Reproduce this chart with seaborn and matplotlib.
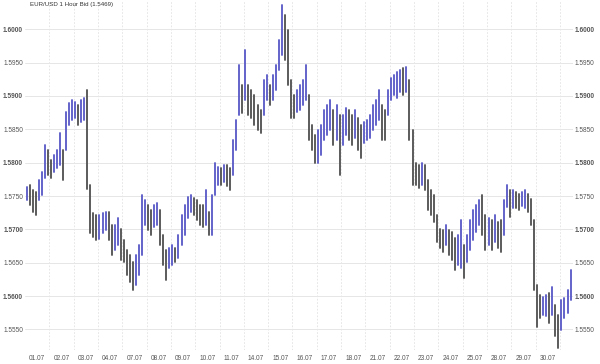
import numpy as np
import pandas as pd
import matplotlib
matplotlib.use("Agg")
import matplotlib.pyplot as plt
import seaborn as sns

title = "EUR/USD 1 Hour Bid (1.5469)"
day_labels = ["01.07", "02.07", "03.07", "04.07", "07.07", "08.07", "09.07", "10.07",
              "11.07", "14.07", "15.07", "16.07", "17.07", "18.07", "21.07", "22.07",
              "23.07", "24.07", "25.07", "28.07", "29.07", "30.07"]
bars_per_day = 8  # one bar = 3 hours

high = [
    1.5764, 1.5767, 1.5759, 1.5756, 1.5774, 1.5786, 1.5827, 1.5819,
    1.5804, 1.5812, 1.5819, 1.5844, 1.5819, 1.5876, 1.5889, 1.5894,
    1.5891, 1.5886, 1.5894, 1.5897, 1.5909, 1.5766, 1.5725, 1.5722,
    1.5722, 1.5725, 1.5726, 1.5726, 1.5707, 1.5707, 1.5717, 1.5701,
    1.5684, 1.5669, 1.5662, 1.5651, 1.5662, 1.5677, 1.5752, 1.5744,
    1.5737, 1.5729, 1.5737, 1.5740, 1.5729, 1.5692, 1.5669, 1.5672,
    1.5677, 1.5672, 1.5692, 1.5722, 1.5737, 1.5749, 1.5752, 1.5747,
    1.5744, 1.5737, 1.5737, 1.5759, 1.5726, 1.5752, 1.5800, 1.5794,
    1.5792, 1.5797, 1.5796, 1.5792, 1.5834, 1.5864, 1.5946, 1.5916,
    1.5969, 1.5916, 1.5909, 1.5901, 1.5886, 1.5879, 1.5924, 1.5931,
    1.5916, 1.5931, 1.5946, 1.5984, 1.6036, 1.6021, 1.5999, 1.5924,
    1.5901, 1.5909, 1.5916, 1.5924, 1.5946, 1.5901, 1.5856, 1.5842,
    1.5849, 1.5856, 1.5879, 1.5886, 1.5894, 1.5879, 1.5886, 1.5871,
    1.5871, 1.5882, 1.5879, 1.5871, 1.5879, 1.5867, 1.5856, 1.5861,
    1.5864, 1.5871, 1.5886, 1.5894, 1.5909, 1.5886, 1.5879, 1.5909,
    1.5927, 1.5931, 1.5936, 1.5939, 1.5942, 1.5944, 1.5924, 1.5849,
    1.5800, 1.5797, 1.5800, 1.5797, 1.5774, 1.5759, 1.5752, 1.5722,
    1.5701, 1.5699, 1.5707, 1.5699, 1.5696, 1.5687, 1.5692, 1.5714,
    1.5677, 1.5692, 1.5714, 1.5729, 1.5737, 1.5744, 1.5752, 1.5722,
    1.5717, 1.5714, 1.5722, 1.5711, 1.5714, 1.5744, 1.5767, 1.5759,
    1.5759, 1.5756, 1.5753, 1.5756, 1.5759, 1.5753, 1.5746, 1.5714,
    1.5617, 1.5602, 1.5599, 1.5602, 1.5605, 1.5614, 1.5587, 1.5572,
    1.5594, 1.5597, 1.5609, 1.5639,
]

low = [
    1.5744, 1.5737, 1.5726, 1.5721, 1.5744, 1.5752, 1.5777, 1.5782,
    1.5777, 1.5786, 1.5792, 1.5797, 1.5774, 1.5819, 1.5856, 1.5864,
    1.5867, 1.5856, 1.5861, 1.5864, 1.5760, 1.5694, 1.5689, 1.5684,
    1.5686, 1.5695, 1.5699, 1.5684, 1.5662, 1.5669, 1.5677, 1.5654,
    1.5651, 1.5632, 1.5621, 1.5609, 1.5617, 1.5632, 1.5662, 1.5707,
    1.5699, 1.5692, 1.5703, 1.5707, 1.5677, 1.5647, 1.5624, 1.5642,
    1.5647, 1.5651, 1.5657, 1.5677, 1.5692, 1.5717, 1.5726, 1.5722,
    1.5714, 1.5707, 1.5703, 1.5707, 1.5692, 1.5692, 1.5752, 1.5767,
    1.5767, 1.5771, 1.5765, 1.5759, 1.5782, 1.5819, 1.5871, 1.5874,
    1.5894, 1.5871, 1.5867, 1.5856, 1.5849, 1.5845, 1.5871, 1.5894,
    1.5886, 1.5894, 1.5909, 1.5939, 1.5961, 1.5954, 1.5916, 1.5867,
    1.5867, 1.5876, 1.5879, 1.5886, 1.5894, 1.5834, 1.5819, 1.5800,
    1.5800, 1.5812, 1.5834, 1.5842, 1.5849, 1.5827, 1.5834, 1.5782,
    1.5827, 1.5842, 1.5834, 1.5827, 1.5837, 1.5819, 1.5807, 1.5829,
    1.5834, 1.5837, 1.5849, 1.5856, 1.5864, 1.5834, 1.5834, 1.5871,
    1.5894, 1.5901, 1.5897, 1.5906, 1.5901, 1.5906, 1.5834, 1.5767,
    1.5767, 1.5762, 1.5767, 1.5759, 1.5729, 1.5722, 1.5711, 1.5681,
    1.5672, 1.5666, 1.5677, 1.5662, 1.5654, 1.5639, 1.5647, 1.5642,
    1.5627, 1.5651, 1.5669, 1.5684, 1.5696, 1.5707, 1.5692, 1.5669,
    1.5677, 1.5669, 1.5681, 1.5672, 1.5666, 1.5692, 1.5734, 1.5719,
    1.5732, 1.5732, 1.5729, 1.5735, 1.5732, 1.5726, 1.5707, 1.5609,
    1.5554, 1.5567, 1.5572, 1.5570, 1.5559, 1.5572, 1.5540, 1.5522,
    1.5549, 1.5567, 1.5575, 1.5594,
]

y_ticks = [1.5550, 1.5600, 1.5650, 1.5700, 1.5750, 1.5800, 1.5850, 1.5900, 1.5950, 1.6000]

sns.set_style("white")
plt.rcParams["font.family"] = ["Liberation Sans", "DejaVu Sans"]

n = len(high)
idx = np.arange(n)
hi = np.array(high)
lo = np.array(low)
mid = (hi + lo) / 2
direction = np.where(np.r_[True, mid[1:] >= mid[:-1]], "up", "down")
df = pd.DataFrame({
    "bar": np.repeat(idx, 2),
    "price": np.column_stack([lo, hi]).ravel(),
    "dir": np.repeat(direction, 2),
})

fig = plt.figure(figsize=(6, 3.64), dpi=100)
ax = fig.add_axes([25 / 600, 14 / 364, 548 / 600, 350 / 364])
ax.set_axisbelow(True)

sns.lineplot(data=df, x="bar", y="price", units="bar", estimator=None,
             hue="dir", palette={"up": "#5c5cc8", "down": "#555555"},
             linewidth=1.35, legend=False, sort=False, ax=ax)

ax.set_xlim(-0.5, n - 0.2)
ax.set_ylim(1.55192, 1.60439)

ax.set_xticks([bars_per_day * d + 3.5 for d in range(len(day_labels))])
ax.set_xticklabels(day_labels)
ax.set_xticks([bars_per_day * d - 0.5 for d in range(1, len(day_labels) + 1)], minor=True)
ax.set_yticks(y_ticks)
ax.set_yticklabels([f"{v:.4f}" for v in y_ticks])

ax.grid(False)
ax.xaxis.grid(True, which="minor", color="#e2e2e2", linestyle=(0, (2, 2)), linewidth=0.6)
ax.yaxis.grid(True, which="major", color="#e6e6e6", linewidth=0.7)

ax.tick_params(axis="both", which="both", length=0, labelsize=4.7, labelcolor="#555555")
ax.tick_params(axis="y", labelleft=True, labelright=True, pad=1.4)
ax.tick_params(axis="x", pad=3.5)
for t, v in zip(ax.yaxis.get_major_ticks(), y_ticks):
    w = "bold" if abs(round(v * 100) - v * 100) < 1e-6 else "normal"
    t.label1.set_fontweight(w)
    t.label2.set_fontweight(w)

ax.set_xlabel("")
ax.set_ylabel("")
for s in ax.spines.values():
    s.set_visible(False)

fig.text(30 / 600, 1 - 4.5 / 364, title, fontsize=4.4, color="#333333",
         ha="left", va="center")

fig.savefig("out.png", dpi=100)
